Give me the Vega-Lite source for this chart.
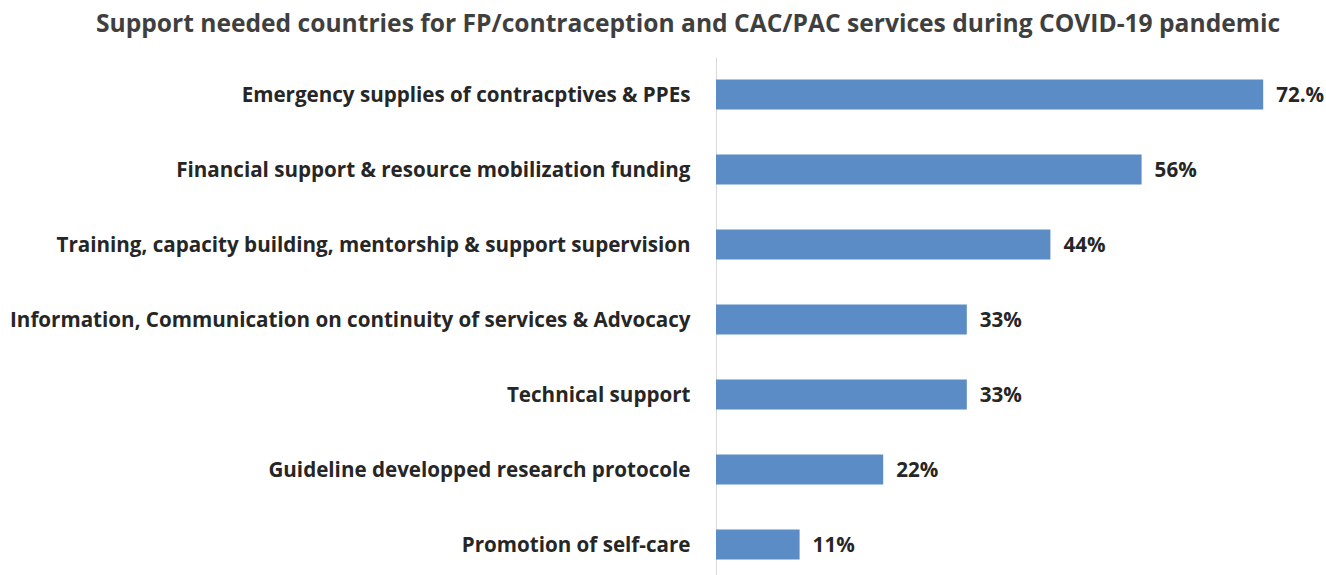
{
  "$schema": "https://vega.github.io/schema/vega-lite/v6.json",
  "autosize": {"type": "none"},
  "padding": {"left": 716, "top": 57, "right": 0, "bottom": 0},
  "width": 608,
  "height": 525,
  "background": "white",
  "title": {
    "text": "Support needed countries for FP/contraception and CAC/PAC services during COVID-19 pandemic",
    "font": "Open Sans",
    "fontSize": 24.6,
    "fontWeight": "bold",
    "color": "#3f3f3f",
    "anchor": "middle",
    "dx": -332,
    "offset": 19
  },
  "data": {
    "values": [
      {"category": "Emergency supplies of contracptives & PPEs", "value": 72, "label": "72.%"},
      {"category": "Financial support & resource mobilization funding", "value": 56, "label": "56%"},
      {"category": "Training, capacity building, mentorship & support supervision", "value": 44, "label": "44%"},
      {"category": "Information, Communication on continuity of services & Advocacy", "value": 33, "label": "33%"},
      {"category": "Technical support", "value": 33, "label": "33%"},
      {"category": "Guideline developped research protocole", "value": 22, "label": "22%"},
      {"category": "Promotion of self-care", "value": 11, "label": "11%"}
    ]
  },
  "encoding": {
    "y": {
      "field": "category",
      "type": "nominal",
      "sort": null,
      "scale": {"paddingInner": 0.6, "paddingOuter": 0.3},
      "axis": {
        "title": null,
        "ticks": false,
        "labelFont": "Open Sans",
        "labelFontSize": 20.6,
        "labelFontWeight": "bold",
        "labelColor": "#262626",
        "labelPadding": 26,
        "labelLimit": 800,
        "labelOffset": 1,
        "domainColor": "#d9d9d9",
        "domainWidth": 1
      }
    },
    "x": {
      "field": "value",
      "type": "quantitative",
      "scale": {"domain": [0, 80]},
      "axis": null
    }
  },
  "layer": [
    {"mark": {"type": "bar", "color": "#5b8cc5"}},
    {
      "mark": {"type": "text", "align": "left", "dx": 13, "dy": 1, "font": "Open Sans", "fontSize": 20.6, "fontWeight": "bold", "color": "#262626"},
      "encoding": {"text": {"field": "label"}}
    }
  ],
  "config": {"view": {"stroke": null}}
}
